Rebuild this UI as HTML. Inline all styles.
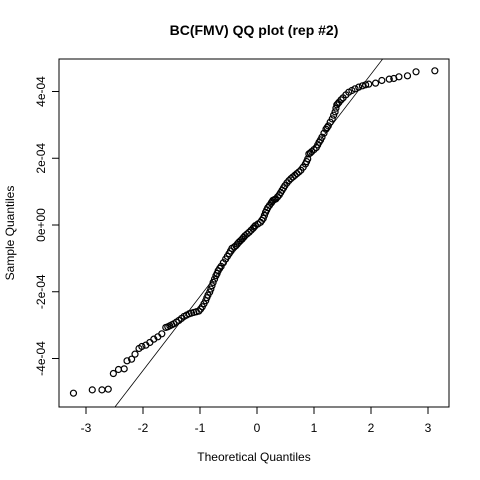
<!DOCTYPE html>
<html><head><meta charset="utf-8"><style>
html,body{margin:0;background:#fff;width:480px;height:480px;overflow:hidden}
svg{display:block}
svg text{font-family:"Liberation Sans",sans-serif;fill:#000}
</style></head><body>
<svg id="c" width="480" height="480" viewBox="0 0 480 480">
<rect width="480" height="480" fill="#fff"/>
<text x="254" y="35" text-anchor="middle" font-size="14" font-weight="bold">BC(FMV) QQ plot (rep #2)</text>
<text x="254" y="461" text-anchor="middle" font-size="12">Theoretical Quantiles</text>
<text transform="translate(14,233) rotate(-90)" text-anchor="middle" font-size="12">Sample Quantiles</text>
<g id="axes"></g><g id="pts"></g>
<rect x="59" y="59" width="390" height="348" fill="none" stroke="#000"/>
</svg>
<script>
const theoretical=[-3.22,-2.89,-2.72,-2.61,-2.52,-2.43,-2.33,-2.28,-2.20,-2.14,-2.07,-2.02,-1.95,-1.88,-1.81,-1.74,-1.67,-1.60,-1.53,-1.46,-1.37,-1.28,-1.19,-1.11,-1.02,-0.96,-0.90,-0.86,-0.81,-0.77,-0.72,-0.68,-0.63,-0.55,-0.49,-0.44,-0.37,-0.32,-0.26,-0.21,-0.14,-0.07,-0.03,0.06,0.11,0.15,0.19,0.25,0.28,0.33,0.39,0.44,0.49,0.56,0.63,0.70,0.77,0.85,0.89,0.91,0.96,1.04,1.09,1.14,1.21,1.25,1.32,1.37,1.40,1.44,1.51,1.61,1.72,1.85,1.96,2.08,2.19,2.32,2.40,2.49,2.64,2.79,3.12,
-0.93,-0.88,-0.83,-0.79,-0.745,-0.70,-0.655,-0.59,-0.52,-0.465,-0.40,-0.345,-0.29,-0.235,-0.175,-0.105,-0.05,0.015,0.085,0.13,0.17,0.22,0.265,0.305,0.36,0.415,0.465,0.525,0.595,0.665,0.735,0.81,0.87,0.935,1.00,1.065,1.115,1.175,1.23,1.285,1.345,1.385,1.42,1.475,1.56,1.665,1.785,1.905,
-1.565,-1.495,-1.415,-1.325,-1.235,-1.15,-1.065,-0.99];
const sample=[-5.04,-4.94,-4.94,-4.92,-4.45,-4.33,-4.31,-4.07,-4.02,-3.87,-3.70,-3.64,-3.60,-3.52,-3.42,-3.35,-3.26,-3.07,-3.02,-2.96,-2.86,-2.74,-2.66,-2.62,-2.58,-2.45,-2.27,-2.10,-1.92,-1.72,-1.52,-1.37,-1.24,-1.02,-0.86,-0.70,-0.62,-0.52,-0.42,-0.32,-0.22,-0.10,-0.02,0.08,0.20,0.38,0.52,0.66,0.74,0.78,0.90,1.04,1.18,1.33,1.44,1.54,1.64,1.83,1.98,2.13,2.20,2.32,2.48,2.63,2.87,2.97,3.18,3.39,3.60,3.68,3.81,3.98,4.08,4.17,4.22,4.25,4.33,4.37,4.39,4.44,4.47,4.59,4.62,
-2.36,-2.18,-2.01,-1.82,-1.62,-1.45,-1.30,-1.13,-0.94,-0.78,-0.66,-0.57,-0.47,-0.37,-0.27,-0.16,-0.06,0.03,0.14,0.29,0.45,0.59,0.70,0.76,0.84,0.97,1.11,1.26,1.39,1.49,1.59,1.73,1.90,2.16,2.26,2.40,2.55,2.75,2.92,3.08,3.29,3.50,3.64,3.75,3.90,4.03,4.13,4.20,
-3.05,-2.99,-2.91,-2.80,-2.70,-2.64,-2.60,-2.52]; // units of 1e-4
const xTicks=[-3,-2,-1,0,1,2,3];
const yTicks=[-4,-2,0,2,4];
const yTickLabels=["-4e-04","-2e-04","0e+00","2e-04","4e-04"];
const lineSlope=2.22, lineIntercept=0.08;
const NS="http://www.w3.org/2000/svg";
const sx=v=>257+57*v, sy=v=>225-33.375*v;
const ax=document.getElementById('axes'), pts=document.getElementById('pts');
function mk(tag,a,p){const e=document.createElementNS(NS,tag);for(const k in a)e.setAttribute(k,a[k]);p.appendChild(e);return e;}
xTicks.forEach(t=>{
 const l=mk('line',{x1:sx(t),x2:sx(t),y1:407,y2:414,stroke:'#000'},ax);
 
 
 const tx=mk('text',{x:sx(t),y:432,'text-anchor':'middle','font-size':12},ax);tx.textContent=t;
 
 
});
yTicks.forEach((t,i)=>{
 const l=mk('line',{x1:52,x2:59,y1:sy(t),y2:sy(t),stroke:'#000'},ax);
 
 
 const tx=mk('text',{transform:`translate(45,${sy(t)}) rotate(-90)`,'text-anchor':'middle','font-size':12},ax);tx.textContent=yTickLabels[i];
 
 
});
const cp=mk('clipPath',{id:'clp'},ax);mk('rect',{x:59,y:59,width:390,height:348},cp);
const ln=mk('line',{x1:sx(-4),y1:sy(lineIntercept-4*lineSlope),x2:sx(4),y2:sy(lineIntercept+4*lineSlope),stroke:'#000','stroke-width':0.8,'clip-path':'url(#clp)'},pts);


theoretical.forEach((t,i)=>{
 const c=mk('circle',{cx:sx(t),cy:sy(sample[i]),r:3,fill:'none',stroke:'#000','stroke-width':1.2},pts);
 
 
});
</script>
</body></html>
